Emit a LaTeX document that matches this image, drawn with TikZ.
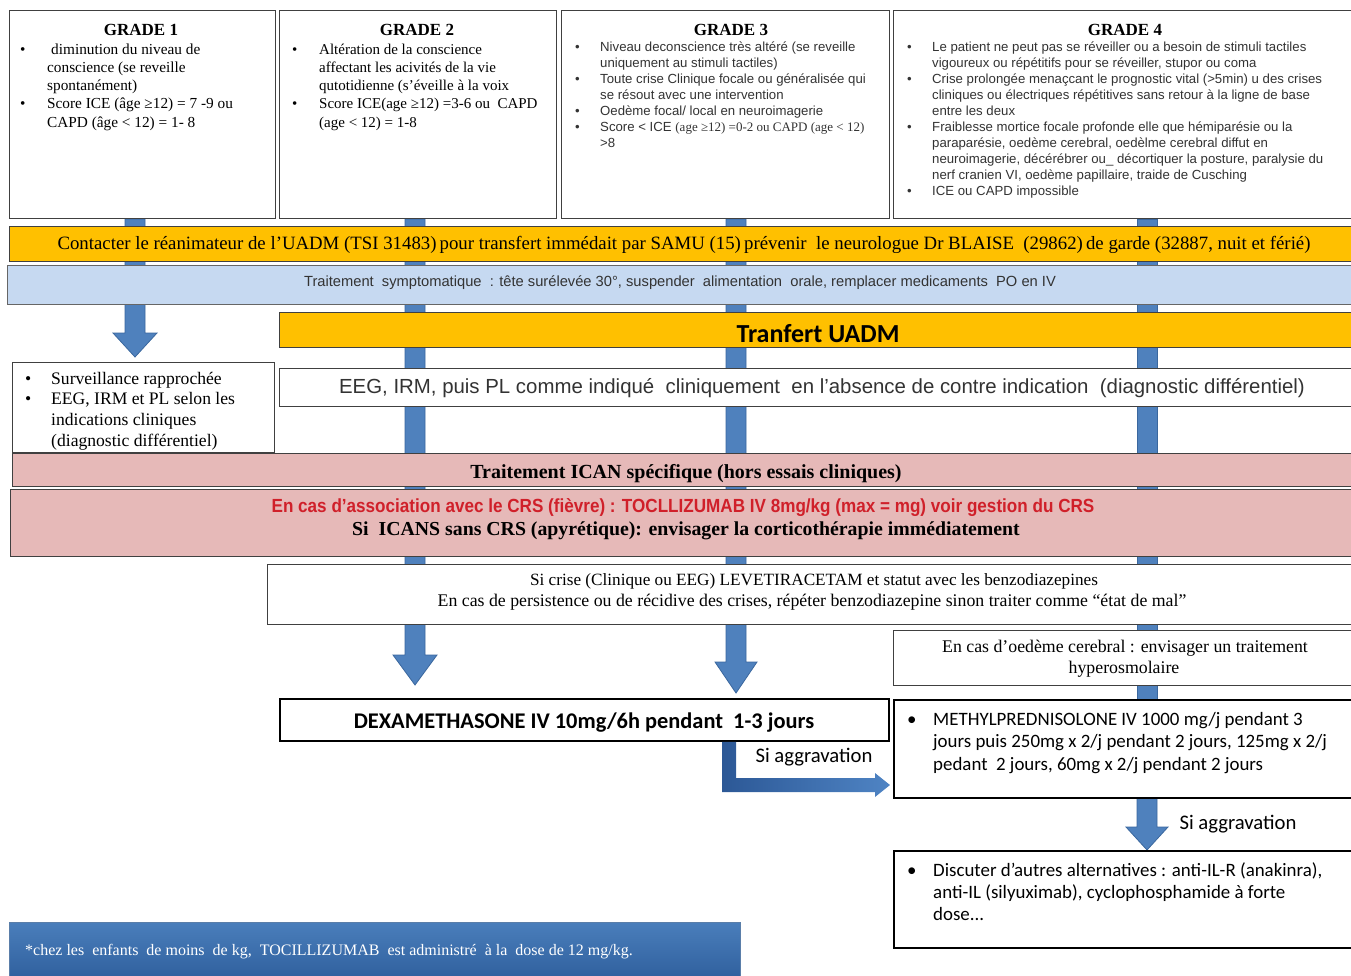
\documentclass[tikz,border=0pt]{standalone}
\usepackage{fontspec}
\setmainfont{Liberation Serif}
\newfontfamily\arial{Liberation Sans}
\newfontfamily\arialn[FakeStretch=0.9]{Liberation Sans}
\newfontfamily\calibri{Carlito}
\newfontfamily\cambria{Liberation Serif}
\usetikzlibrary{calc}
\pgfdeclarelayer{bg}
\pgfsetlayers{bg,main}
\definecolor{orangeb}{HTML}{FFC000}
\definecolor{lblue}{HTML}{C6D9F1}
\definecolor{ablue}{HTML}{4F81BD}
\definecolor{ablueD}{HTML}{3A679E}
\definecolor{pinkb}{HTML}{E6B9B8}
\definecolor{redt}{HTML}{D0202A}
\definecolor{bord}{HTML}{404040}
\definecolor{gtext}{HTML}{333333}
\definecolor{footA}{HTML}{4A7EBB}
\definecolor{footB}{HTML}{2E5E9C}
\definecolor{elbA}{HTML}{2C5896}
\definecolor{elbB}{HTML}{4F84C4}
\newcommand{\vblock}[4]{%
  \draw[blockarrow] let \p1=(#1), \p2=(#2) in
    (\x1-10pt,\y1) -- (\x1+10pt,\y1) -- (\x1+10pt,\y2+#3) -- (\x1+#4,\y2+#3)
    -- (\x1,\y2) -- (\x1-#4,\y2+#3) -- (\x1-10pt,\y2+#3) -- cycle;}
\begin{document}
\begin{tikzpicture}[x=1pt,y=-1pt,
  gbox/.style={draw=bord, line width=1pt, fill=white, inner sep=0pt, anchor=north west},
  tbox/.style={draw=black, line width=1.8pt, fill=white, inner sep=0pt, anchor=north west},
  obox/.style={draw=bord, line width=1pt, fill=orangeb, inner sep=0pt, anchor=north west},
  bbox/.style={draw=bord!80, line width=0.8pt, fill=lblue, inner sep=0pt, anchor=north west},
  pbox/.style={draw=bord, line width=1pt, fill=pinkb, inner sep=0pt, anchor=north west},
  blockarrow/.style={fill=ablue, draw=ablueD, line width=0.8pt},
  txt/.style={inner sep=0pt, anchor=base},
  ltxt/.style={inner sep=0pt, anchor=base west, align=left},
]
\useasboundingbox (0,0) rectangle (1351,975);
\renewcommand{\arraystretch}{1}
% shaft columns
\coordinate (x1) at (135,0);
\coordinate (x2) at (415,0);
\coordinate (x3) at (736,0);
\coordinate (x4) at (1147,0);
\coordinate (x5) at (729,0);
% ---------- boxes
\node[gbox, minimum width=266pt, minimum height=208pt] (g1) at (9,10) {};
\node[gbox, minimum width=277pt, minimum height=208pt] (g2) at (279,10) {};
\node[gbox, minimum width=328pt, minimum height=208pt] (g3) at (561,10) {};
\node[gbox, minimum width=470pt, minimum height=208pt] (g4) at (893,10) {};
\node[obox, minimum width=1360pt, minimum height=35pt] (ob) at (9,226) {};
\node[bbox, minimum width=1360pt, minimum height=39pt] (bb) at (7,265) {};
\node[obox, minimum width=1080pt, minimum height=35pt] (tu) at (279,312) {};
\node[gbox, minimum width=262pt, minimum height=90pt] (surv) at (12,362) {};
\node[gbox, minimum width=1080pt, minimum height=38pt] (eeg) at (279,368) {};
\node[pbox, minimum width=1350pt, minimum height=33pt] (p1) at (12,453) {};
\node[pbox, minimum width=1350pt, minimum height=67pt] (p2) at (10,489) {};
\node[gbox, minimum width=1090pt, minimum height=60pt] (leve) at (267,564) {};
\node[gbox, minimum width=470pt, minimum height=55pt] (oed) at (893,630) {};
\node[tbox, minimum width=609pt, minimum height=42pt] (dexa) at (279,698) {};
\node[tbox, minimum width=470pt, minimum height=98pt] (meth) at (893,699) {};
\node[tbox, minimum width=470pt, minimum height=97pt] (disc) at (893,850) {};
\node[draw=footA!70!gray, line width=0.6pt, top color=footA, bottom color=footB, inner sep=0pt, anchor=north west, minimum width=731pt, minimum height=60pt] (foot) at (9,922) {};
% ---------- arrows (behind)
\begin{pgfonlayer}{bg}
\vblock{g1.south -| x1}{$(surv.north -| x1)+(0,-5)$}{24pt}{22pt}
\vblock{g2.south -| x2}{$(dexa.north -| x2)+(0,-13)$}{30pt}{22pt}
\vblock{g3.south -| x3}{$(dexa.north -| x3)+(0,-5)$}{31pt}{21pt}
\draw[blockarrow] let \p1=(g4.south -| x4), \p2=(meth.north -| x4) in
  (\x1-10pt,\y1) rectangle (\x1+10pt,\y2);
\vblock{meth.south -| x4}{disc.north -| x4}{23pt}{21pt}
\end{pgfonlayer}
\coordinate (etip) at ($(meth.west |- 0,785)+(-3,0)$);
\shade[left color=elbA, right color=elbB] let \p1=(dexa.south -| x5), \p2=(etip) in
  (\x1-7pt,\y1) -- (\x1+7pt,\y1) -- (\x1+7pt,\y2+7pt) -- (\x2-15pt,\y2+7pt)
  -- (\x2-15pt,\y2+12pt) -- (\x2,\y2) -- (\x2-15pt,\y2-12pt) -- (\x2-15pt,\y2-7pt)
  -- (\x1-7pt,\y2-7pt) -- cycle;
% ---------- grade texts
\node[txt, font=\cambria\bfseries\fontsize{17}{20}\selectfont] (t1) at (141,35) {GRADE 1};
\node[txt, font=\cambria\bfseries\fontsize{17}{20}\selectfont] (t2) at (417,35) {GRADE 2};
\node[txt, font=\cambria\bfseries\fontsize{17}{20}\selectfont] (t3) at (731,35) {GRADE 3};
\node[txt, font=\cambria\bfseries\fontsize{17}{20}\selectfont] (t4) at (1125,35) {GRADE 4};
\node[ltxt, font=\cambria\fontsize{15.3}{18.3}\selectfont] (l1) at (20,54) {%
\begin{tabular}[t]{@{}p{27pt}@{}l@{}}
\textbullet & \hspace{4pt}diminution du niveau de\\
& conscience (se reveille\\
& spontanément)\\
\textbullet & Score ICE (âge ≥12) = 7 -9 ou\\
& CAPD (âge < 12) = 1- 8
\end{tabular}};
\node[ltxt, font=\cambria\fontsize{15}{18.3}\selectfont] (l2) at (292,54) {%
\begin{tabular}[t]{@{}p{27pt}@{}l@{}}
\textbullet & Altération de la conscience\\
& affectant les acivités de la vie\\
& qutotidienne (s’éveille à la voix\\
\textbullet & Score ICE(age ≥12) =3-6 ou\ \ CAPD\\
& (age < 12) = 1-8
\end{tabular}};
\node[ltxt, font=\arial\fontsize{13.2}{16}\selectfont, text=gtext] (l3) at (575,51) {%
\begin{tabular}[t]{@{}p{25pt}@{}l@{}}
\textbullet & Niveau deconscience très altéré (se reveille\\
& uniquement au stimuli tactiles)\\
\textbullet & Toute crise Clinique focale ou généralisée qui\\
& se résout avec une intervention\\
\textbullet & Oedème focal/ local en neuroimagerie\\
\textbullet & Score < ICE {\cambria\fontsize{13}{16}\selectfont (age ≥12) =0-2 ou CAPD (age < 12)}\\
& >8
\end{tabular}};
\node[ltxt, font=\arial\fontsize{13.2}{16}\selectfont, text=gtext] (l4) at (907,51) {%
\begin{tabular}[t]{@{}p{25pt}@{}l@{}}
\textbullet & Le patient ne peut pas se réveiller ou a besoin de stimuli tactiles\\
& vigoureux ou répétitifs pour se réveiller, stupor ou coma\\
\textbullet & Crise prolongée menaçcant le prognostic vital (>5min) u des crises\\
& cliniques ou électriques répétitives sans retour à la ligne de base\\
& entre les deux\\
\textbullet & Fraiblesse mortice focale profonde elle que hémiparésie ou la\\
& paraparésie, oedème cerebral, oedèlme cerebral diffut en\\
& neuroimagerie, décérébrer ou\_ décortiquer la posture, paralysie du\\
& nerf cranien VI, oedème papillaire, traide de Cusching\\
\textbullet & ICE ou CAPD impossible
\end{tabular}};
% ---------- bars
\node[txt, font=\fontsize{18.8}{20}\selectfont] (obt) at (684,249) {Contacter le réanimateur de l’UADM (TSI 31483)\,pour transfert immédait par SAMU (15)\,prévenir\ \ le neurologue Dr BLAISE\ \ (29862)\,de garde (32887, nuit et férié)};
\node[txt, font=\arial\fontsize{14.7}{16}\selectfont, text=gtext] (bbt) at (680,286) {Traitement\ \ symptomatique\ \ : tête surélevée 30°, suspender\ \ alimentation\ \ orale, remplacer medicaments\ \ PO en IV};
\node[txt, font=\calibri\bfseries\fontsize{26}{28}\selectfont] (tut) at (818,342) {Tranfert UADM};
\node[ltxt, font=\cambria\fontsize{17.6}{20.7}\selectfont] (st) at (25,384) {%
\begin{tabular}[t]{@{}p{26pt}@{}l@{}}
\textbullet & Surveillance rapprochée\\
\textbullet & EEG, IRM et PL selon les\\
& indications cliniques\\
& (diagnostic différentiel)
\end{tabular}};
\node[txt, font=\arial\fontsize{20.4}{22}\selectfont, text=gtext] (eegt) at (822,393) {EEG, IRM, puis PL comme indiqué\ \ cliniquement\ \ en l’absence de contre indication\ \ (diagnostic différentiel)};
\node[txt, font=\cambria\bfseries\fontsize{20}{22}\selectfont] (p1t) at (686,478) {Traitement ICAN spécifique (hors essais cliniques)};
\node[txt, font=\arialn\bfseries\fontsize{19}{20}\selectfont, text=redt] (p2a) at (683,512) {En cas d’association avec le CRS (fièvre) : TOCLLIZUMAB IV 8mg/kg (max = mg) voir gestion du CRS};
\node[txt, font=\cambria\bfseries\fontsize{19.8}{22}\selectfont] (p2b) at (686,535) {Si\ \ ICANS sans CRS (apyrétique): envisager la corticothérapie immédiatement};
\node[txt, font=\cambria\fontsize{17.2}{20}\selectfont] (lv1) at (814,585) {Si crise (Clinique ou EEG) LEVETIRACETAM et statut avec les benzodiazepines};
\node[txt, font=\cambria\fontsize{17.8}{20}\selectfont] (lv2) at (812,606) {En cas de persistence ou de récidive des crises, répéter benzodiazepine sinon traiter comme “état de mal”};
\node[txt, font=\cambria\fontsize{17.8}{20}\selectfont] (ot1) at (1125,652) {En cas d’oedème cerebral : envisager un traitement};
\node[txt, font=\cambria\fontsize{17.8}{20}\selectfont] (ot2) at (1124,673) {hyperosmolaire};
\node[txt, font=\calibri\bfseries\fontsize{22.4}{24}\selectfont] (dt) at (584,728) {DEXAMETHASONE IV 10mg/6h pendant\ \ 1-3 jours};
\node[txt, font=\calibri\fontsize{20.7}{22}\selectfont] (sa1) at (814,762) {Si aggravation};
\node[txt, font=\calibri\fontsize{20.7}{22}\selectfont] (sa2) at (1238,829) {Si aggravation};
\node[ltxt, font=\calibri\fontsize{18.9}{22.5}\selectfont] (mt) at (907,725) {%
\begin{tabular}[t]{@{}p{26pt}@{}l@{}}
\textbullet & METHYLPREDNISOLONE IV 1000 mg/j pendant 3\\
& jours puis 250mg x 2/j pendant 2 jours, 125mg x 2/j\\
& pedant\ \ 2 jours, 60mg x 2/j pendant 2 jours
\end{tabular}};
\node[ltxt, font=\calibri\fontsize{18.9}{22}\selectfont] (dct) at (907,876) {%
\begin{tabular}[t]{@{}p{26pt}@{}l@{}}
\textbullet & Discuter d’autres alternatives : anti-IL-R (anakinra),\\
& anti-IL (silyuximab), cyclophosphamide à forte\\
& dose...
\end{tabular}};
\node[ltxt, font=\fontsize{16}{18}\selectfont, text=white] (ft) at (25,955) {*chez les\ \ enfants\ \ de moins\ \ de kg,\ \ TOCILLIZUMAB\ \ est administré\ \ à la\ \ dose de 12 mg/kg.};
\end{tikzpicture}
\end{document}
